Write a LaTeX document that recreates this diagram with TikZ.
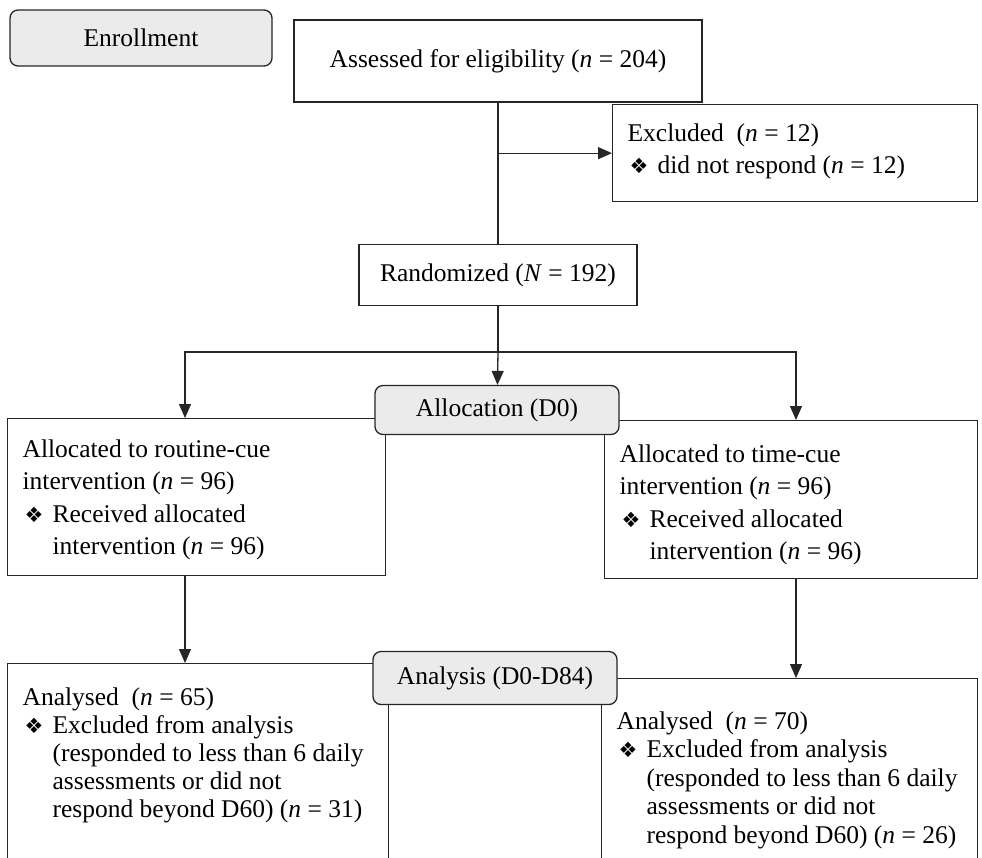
\documentclass[tikz,border=0pt]{standalone}
\usepackage{fontspec}
\setmainfont{Liberation Serif}
\newfontfamily\bulfont{DejaVu Sans}
\usetikzlibrary{arrows.meta,positioning}
\tikzset{every path/.style={line width=1.3pt}}
\definecolor{stagegray}{gray}{0.92}
\definecolor{linegray}{gray}{0.15}
\newcommand{\fs}{\fontsize{25.5}{32.5}\selectfont}
\newcommand{\itm}{\makebox[30pt][l]{\hspace{2pt}{\bulfont\fontsize{21}{21}\selectfont ❖}}}
\newcommand{\ind}{\hspace*{30pt}}

\begin{document}
\begin{tikzpicture}[x=1pt,y=-1pt,
  box/.style={draw=linegray, fill=white, inner ysep=0pt, inner xsep=15pt, anchor=north west},
  stage/.style={draw=linegray, fill=stagegray, rounded corners=8pt, inner sep=0pt, font=\fs},
  plain/.style={draw=linegray, fill=white, inner sep=0pt, font=\fs},
  arr/.style={draw=linegray, -{Triangle[length=14pt,width=12pt]}}]
\useasboundingbox (0,0) rectangle (982,857);

% enrollment
\node[stage, minimum width=262pt, minimum height=56pt] (enrol) at (141,38) {Enrollment};
\node[plain, minimum width=408pt, minimum height=82pt] (assess) at (498,61) {Assessed for eligibility (\textit{n} = 204)};
\node[box] (excl) at (612,104) {\parbox[c][97pt][t]{335pt}{\fs\raggedright\vspace*{19pt}%
  Excluded\ \ (\textit{n} = 12)\\
  \itm did not respond (\textit{n} = 12)}};
\node[plain, minimum width=278pt, minimum height=61pt] (rand) at (498,275) {Randomized (\textit{N} = 192)};

% allocation
\node[box] (rcue) at (7,418) {\parbox[c][157pt][t]{348pt}{\fs\raggedright\vspace*{21pt}%
  Allocated to routine-cue\\
  intervention (\textit{n} = 96)\\
  \itm Received allocated\\
  \ind intervention (\textit{n} = 96)}};
\node[box] (tcue) at (604,420) {\parbox[c][158pt][t]{343pt}{\fs\raggedright\vspace*{24pt}%
  Allocated to time-cue\\
  intervention (\textit{n} = 96)\\
  \itm Received allocated\\
  \ind intervention (\textit{n} = 96)}};
\node[stage, minimum width=244pt, minimum height=49pt] (alloc) at (497,410) {Allocation (D0)};

% analysis
\node[box] (an1) at (7,663) {\parbox[c][250pt][t]{351pt}{\fontsize{25.5}{28}\selectfont\raggedright\vspace*{24pt}%
  Analysed\ \ (\textit{n} = 65)\\
  \itm Excluded from analysis\\
  \ind (responded to less than 6 daily\\
  \ind assessments or did not\\
  \ind respond beyond D60) (\textit{n} = 31)}};
\node[box] (an2) at (601,678) {\parbox[c][250pt][t]{346pt}{\fontsize{25.5}{28.5}\selectfont\raggedright\vspace*{33pt}%
  Analysed\ \ (\textit{n} = 70)\\
  \itm Excluded from analysis\\
  \ind (responded to less than 6 daily\\
  \ind assessments or did not\\
  \ind respond beyond D60) (\textit{n} = 26)}};
\node[stage, minimum width=244pt, minimum height=53pt] (analys) at (495,678) {Analysis (D0-D84)};

% connectors
\coordinate (split) at (498,352);
\coordinate (lcol) at (185,0);
\coordinate (rcol) at (796,0);
\draw[draw=linegray] (assess) -- (rand);
\draw[arr] (assess.south |- excl.west) -- (excl.west);
\draw[draw=linegray] (rand) -- (split);
\draw[arr] (split) -- (alloc);
\draw[arr] (split) -| (lcol |- rcue.north);
\draw[arr] (split) -| (rcol |- tcue.north);
\draw[arr] (lcol |- rcue.south) -- (lcol |- an1.north);
\draw[arr] (rcol |- tcue.south) -- (rcol |- an2.north);
\end{tikzpicture}
\end{document}
